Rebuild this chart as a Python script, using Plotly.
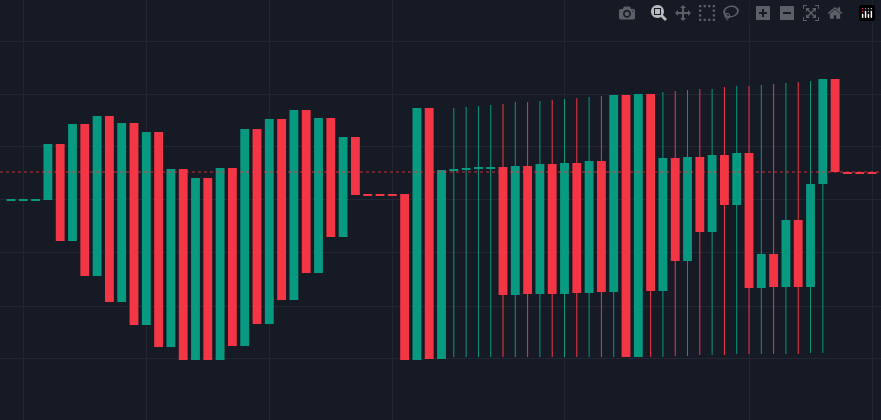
import plotly.graph_objects as go

# values (pixel-like price scale, top = small)
opens = [201, 199, 199, 200, 144, 241, 124, 276, 116, 302, 123, 325, 132, 347, 169,
         360, 178, 360, 168, 346, 129, 324, 119, 300, 110, 273, 118, 237, 137,
         194, 194, 194, 194, 360, 108, 359,
         170, 169, 168, 167, 167, 295, 166, 294, 164, 294, 163, 293, 161,
         292, 95, 357, 94, 291, 158, 261, 157, 232, 155, 205, 153, 288, 254,
         287, 220, 287, 184, 79, 172, 172, 172]
closes = [199, 199, 199, 144, 241, 124, 276, 116, 302, 123, 325, 132, 347, 169, 360,
          178, 360, 168, 346, 129, 324, 119, 300, 110, 273, 118, 237, 137, 195,
          194, 194, 194, 360, 108, 359, 170,
          169, 168, 167, 167, 295, 166, 294, 164, 294, 163, 293, 161, 292,
          95, 357, 94, 291, 158, 261, 157, 232, 155, 205, 153, 288, 254, 287,
          220, 287, 184, 79, 172, 172, 172, 172]
wick_top = [None] * 36 + [108, 107, 106, 105, 104, 102, 102, 101, 100, 99, 98, 97, 96,
                          95, 95, 94, 94, 92, 91, 90, 89, 89, 87, 86, 86, 85, 84,
                          83, 82, 81, 79, None, None, None, None]
wick_bottom = [None] * 36 + [357] * 18 + [356, 356, 355, 355, 355, 354, 354, 354,
                                         354, 354, 354, 353, 353, None, None, None, None]

GREEN = '#089981'
RED = '#F23645'

x = list(range(len(opens)))
colors = []
for o, c in zip(opens, closes):
    if c < o:
        colors.append(GREEN)
    elif c > o:
        colors.append(RED)
    else:
        colors.append(colors[-1] if colors else GREEN)

bases = [min(o, c) for o, c in zip(opens, closes)]
heights = [max(abs(o - c), 1.5) for o, c in zip(opens, closes)]

fig = go.Figure()
for col in (GREEN, RED):
    wx, wy = [], []
    for i, (t, b) in enumerate(zip(wick_top, wick_bottom)):
        if t is not None and colors[i] == col:
            wx += [i, i, None]
            wy += [t, b, None]
    fig.add_trace(go.Scatter(x=wx, y=wy, mode='lines', line=dict(color=col, width=1),
                             hoverinfo='skip'))
fig.add_trace(go.Bar(x=x, y=heights, base=bases, width=0.72,
                     marker=dict(color=colors, line=dict(width=0)), hoverinfo='skip'))
fig.add_hline(y=172, line=dict(color=RED, width=1, dash='dot'), opacity=0.8)

fig.update_layout(
    width=881, height=420,
    margin=dict(l=0, r=0, t=0, b=0),
    paper_bgcolor='#161A25', plot_bgcolor='#161A25',
    showlegend=False,
    xaxis=dict(range=[-0.894, 70.73],
               tickvals=[1, 11, 21, 31, 45, 60, 70], showticklabels=False,
               gridcolor='#232632', zeroline=False),
    yaxis=dict(range=[420, 0], tickvals=[41, 94, 146, 199, 252, 306, 358],
               showticklabels=False, gridcolor='#232632', zeroline=False),
)
fig.write_html("out.html", post_script="document.body.style.margin='0';")
